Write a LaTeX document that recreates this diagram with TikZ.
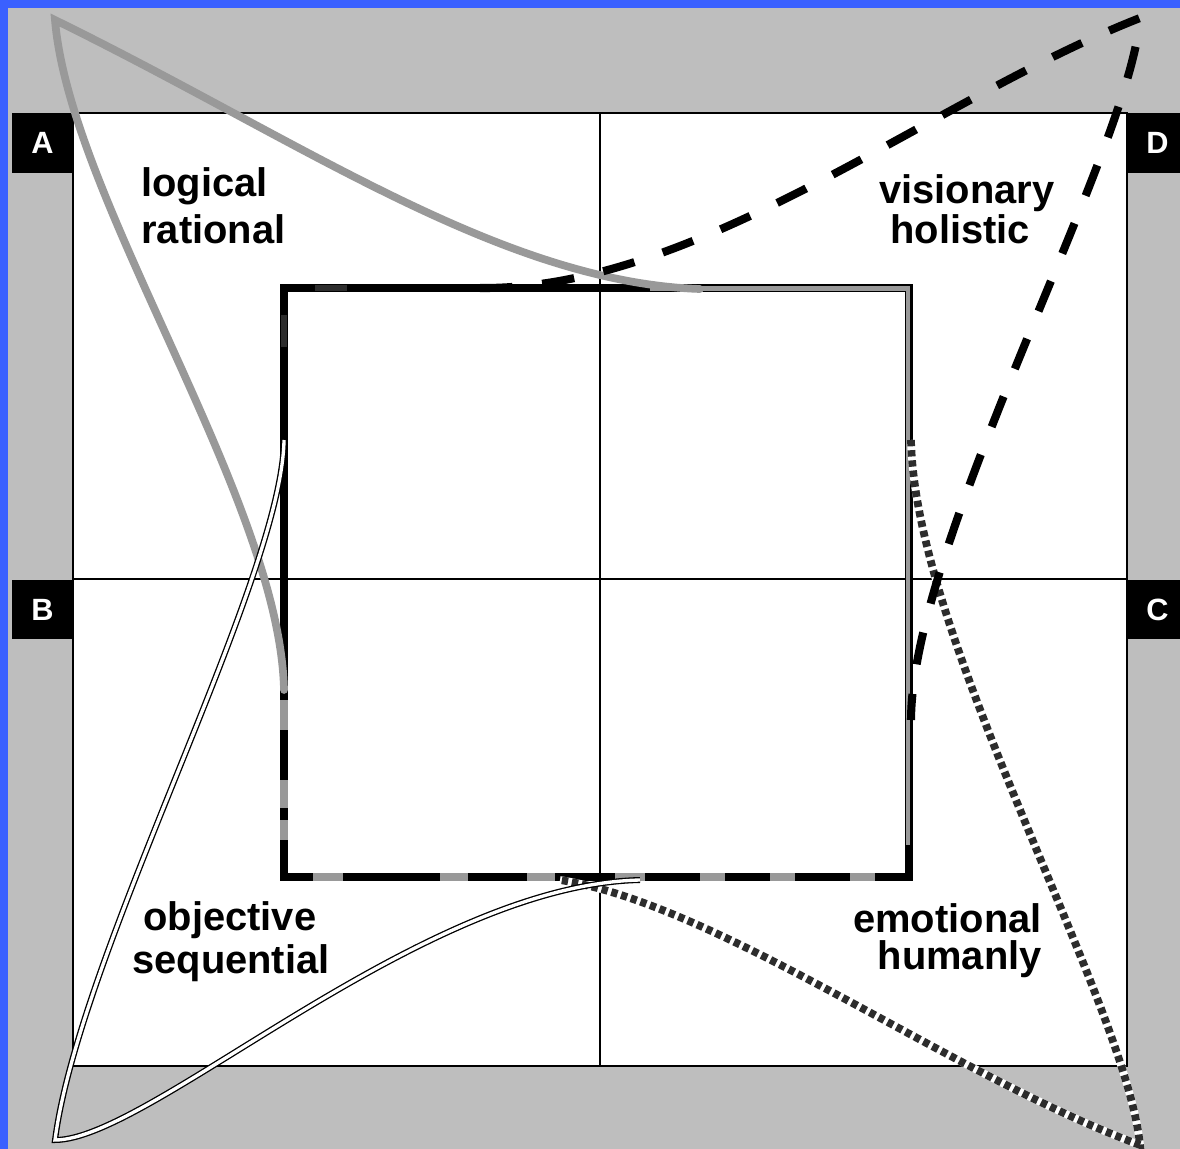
\documentclass[tikz,border=0pt]{standalone}
\usepackage{fontspec}
\setmainfont{Liberation Sans}
\definecolor{bluebar}{RGB}{58,96,255}
\definecolor{bggray}{RGB}{190,190,190}
\definecolor{profgray}{RGB}{153,153,153}
\definecolor{dotdark}{RGB}{45,45,45}
\begin{document}
\begin{tikzpicture}[x=0.02cm,y=-0.02cm,
  quadframe/.style={draw=black,line width=0.8pt,fill=white},
  axisline/.style={draw=black,line width=0.6pt},
  tag/.style={fill=black,text=white,inner sep=0pt,minimum width=1.22cm,minimum height=1.2cm,font=\fontsize{17.5}{17.5}\selectfont\bfseries},
  lbl/.style={inner sep=0pt,font=\fontsize{22.7}{27}\selectfont\bfseries},
  sqline/.style={draw=black,line width=4.6pt},
  sqgray/.style={draw=profgray,line width=2.6pt},
  sqgraydash/.style={draw=profgray,line width=4.6pt},
  sqdark/.style={draw=dotdark,line width=3pt},
  profA/.style={draw=profgray,line width=4.4pt,line cap=round},
  profB/.style={draw=black,line width=0.75pt,double=white,double distance=1.9pt},
  profCbase/.style={draw=white,line width=4.4pt},
  profCdots/.style={draw=dotdark,line width=4.4pt,dash pattern=on 3.6pt off 2.2pt},
  profD/.style={draw=black,line width=4.6pt,dash pattern=on 18.5pt off 17pt}
]
\useasboundingbox (0,0) rectangle (1180,1149);
\clip (0,0) rectangle (1180,1149);
\fill[bluebar] (0,0) rectangle (1180,1149);
\fill[bggray] (8,8) rectangle (1180,1149);

% quadrant frame and axes
\draw[quadframe] (73,113) rectangle (1127,1066);
\draw[axisline] (600,113) -- (600,1066);
\draw[axisline] (73,579) -- (1127,579);

% corner tags
\node[tag] (tagA) at (42.5,143) {A};
\node[tag] (tagB) at (42.5,609.5) {B};
\node[tag] (tagC) at (1157.5,609.5) {C};
\node[tag] (tagD) at (1157.5,143) {D};

% inner square
\coordinate (s1) at (284,288);
\coordinate (s2) at (909,288);
\coordinate (s3) at (909,877);
\coordinate (s4) at (284,877);
\draw[sqline] (s1) -- (s2) -- (s3) -- (s4) -- cycle;
\draw[sqgray] (650,288.5) -- (908,288.5) -- (908,845);
\foreach \a/\b in {313/343,440/468,527/555,615/645,700/725,770/795,850/875}
  \draw[sqgraydash] (\a,877) -- (\b,877);
\foreach \a/\b in {700/730,780/808,820/840}
  \draw[sqgraydash] (284,\a) -- (284,\b);
\draw[sqdark] (315,288) -- (347,288);
\draw[sqdark] (284,315) -- (284,347);

% profile A (gray, logical / rational)
\coordinate (aS) at (284,690);
\coordinate (aT) at (55,20);
\coordinate (aE) at (700,289);
\draw[profA] (aS) .. controls (280,500) and (70,200) .. (aT)
  .. controls (300,140) and (500,282) .. (aE);

% profile C (dotted, emotional / humanly)
\coordinate (cS) at (911,440);
\coordinate (cT) at (1140,1145);
\coordinate (cE) at (560,880);
\draw[profCbase] (cS) .. controls (915,640) and (1125,1000) .. (cT)
  .. controls (950,1075) and (720,905) .. (cE);
\draw[profCdots] (cS) .. controls (915,640) and (1125,1000) .. (cT)
  .. controls (950,1075) and (720,905) .. (cE);

% profile B (double line, objective / sequential)
\coordinate (bS) at (284,440);
\coordinate (bT) at (55,1140);
\coordinate (bE) at (640,880);
\draw[profB] (bS) .. controls (282,580) and (80,950) .. (bT)
  .. controls (150,1140) and (420,885) .. (bE);

% profile D (dashed, visionary / holistic)
\coordinate (dS) at (480,288);
\coordinate (dT) at (1140,18);
\coordinate (dE) at (911,720);
\draw[profD] (dS) .. controls (700,290) and (930,100) .. (dT)
  .. controls (1130,150) and (912,540) .. (dE);

% labels
\node[lbl,anchor=base west] (l1) at (141,196) {logical};
\node[lbl,anchor=base west] (l2) at (141,243) {rational};
\node[lbl,anchor=base west] (v1) at (879,203) {visionary};
\node[lbl,anchor=base west] (v2) at (890,243) {holistic};
\node[lbl,anchor=base west] (o1) at (143,930) {objective};
\node[lbl,anchor=base west] (o2) at (132,973) {sequential};
\node[lbl,anchor=base east] (e1) at (1042,932) {emotional};
\node[lbl,anchor=base east] (e2) at (1042,969) {humanly};
\end{tikzpicture}
\end{document}
